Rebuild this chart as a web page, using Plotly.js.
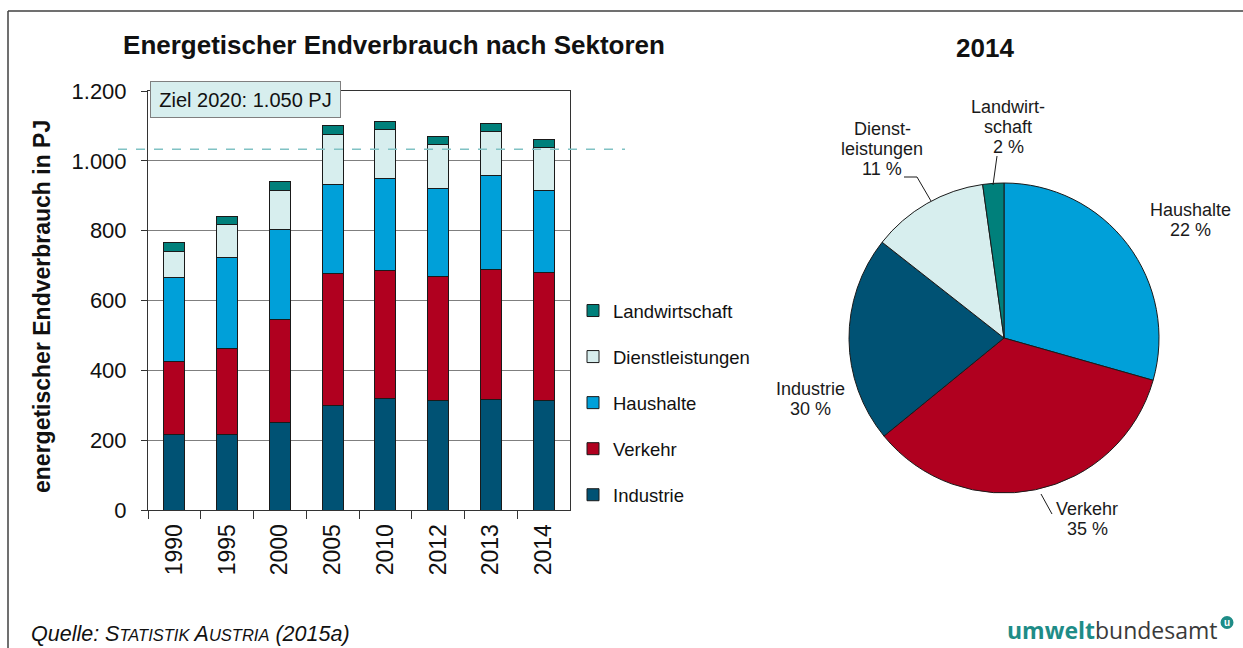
<!DOCTYPE html>
<html>
<head>
<meta charset="utf-8">
<script src="https://cdn.plot.ly/plotly-3.0.1.min.js"></script>
<style>html,body{margin:0;padding:0;background:#fff;}#chart{width:1243px;height:648px;}</style>
</head>
<body>
<div id="chart"></div>
<script>
// ---- data ----
const years = ['1990','1995','2000','2005','2010','2012','2013','2014'];
const industrie = [216,217,251,299,320,314,316,313];
const verkehr = [209,245,294,378,365,354,373,366];
const haushalte = [242,262,258,256,265,253,270,237];
const dienstleistungen = [73,95,113,143,139,125,125,121];
const landwirtschaft = [25,23,24,25,24,24,23,23];
const seriesNames = ['Industrie','Verkehr','Haushalte','Dienstleistungen','Landwirtschaft'];
const zielLine = 1033;
// pie 2014 (slice shares as drawn, clockwise from 12 o'clock)
const pieLabels = ['Haushalte','Verkehr','Industrie','Dienstleistungen','Landwirtschaft'];
const pieValues = [29.4,34.7,21.5,12.2,2.2];
const pieText = [['Haushalte','22 %'],['Verkehr','35 %'],['Industrie','30 %'],['Dienst-','leistungen','11 %'],['Landwirt-','schaft','2 %']];

const colors = {
  'Industrie':'#005274',
  'Verkehr':'#b0001f',
  'Haushalte':'#00a0d9',
  'Dienstleistungen':'#d7eeee',
  'Landwirtschaft':'#00807b'
};
const W = 1243, H = 648;
const X = p => p / W;
const Y = p => 1 - p / H;
const FONT = 'Liberation Sans, Arial, sans-serif';

const seriesData = [industrie, verkehr, haushalte, dienstleistungen, landwirtschaft];
const traces = seriesNames.map((n, i) => ({
  type: 'bar', name: n, x: years, y: seriesData[i],
  legendgroup: n, legendrank: seriesNames.length - i,
  marker: {color: colors[n], line: {color: '#1a1a1a', width: 1}},
  xaxis: 'x', yaxis: 'y', hoverinfo: 'x+y+name'
}));

traces.push({
  type: 'pie', labels: pieLabels, values: pieValues, sort: false,
  direction: 'clockwise', rotation: 0, textinfo: 'none', showlegend: false,
  marker: {colors: pieLabels.map(l => colors[l]), line: {color: '#1a1a1a', width: 1}},
  domain: {x: [X(849), X(1159)], y: [Y(493), Y(183)]}
});

// pie label centre positions (px), first line
const piePos = [[1190,210],[1087,509],[810,389],[882,129],[1008,107]];

const annotations = [
  {text: 'Ziel 2020: 1.050 PJ', xref: 'paper', yref: 'paper', x: X(245.5), y: Y(99.5),
   xanchor: 'center', yanchor: 'middle', showarrow: false, width: 187, height: 33,
   bgcolor: '#d7eeee', bordercolor: '#7f7f7f', borderwidth: 1,
   font: {family: FONT, size: 20, color: '#111'}},
  {text: '<b>energetischer Endverbrauch in PJ</b>', xref: 'paper', yref: 'paper', x: X(42), y: Y(307),
   textangle: -90, showarrow: false, xanchor: 'center', yanchor: 'middle',
   font: {family: FONT, size: 23, color: '#111'}},
  {text: '<b>2014</b>', xref: 'paper', yref: 'paper', x: X(985), y: Y(48), showarrow: false,
   xanchor: 'center', yanchor: 'middle', font: {family: FONT, size: 26, color: '#111'}},
  {text: '<i>Quelle: S<span style="font-size:16.5px">TATISTIK</span> A<span style="font-size:16.5px">USTRIA</span> (2015a)</i>',
   xref: 'paper', yref: 'paper', x: X(29), y: Y(634), xanchor: 'left', yanchor: 'middle', showarrow: false,
   font: {family: FONT, size: 21.5, color: '#111'}},
  {text: '<span style="color:#1e8c87"><b>umwelt</b></span><span style="color:#3a3a3a">bundesamt</span>',
   xref: 'paper', yref: 'paper', x: X(1220), y: Y(630), xanchor: 'right', yanchor: 'middle', showarrow: false,
   font: {family: 'Open Sans, sans-serif', size: 23}},
  {text: '<b>u</b>', xref: 'paper', yref: 'paper', x: X(1227), y: Y(622.5), xanchor: 'center', yanchor: 'middle',
   showarrow: false, font: {family: FONT, size: 10, color: '#fff'}}
];
pieText.forEach((lines, i) => lines.forEach((t, j) => annotations.push({
  text: t, xref: 'paper', yref: 'paper', x: X(piePos[i][0]), y: Y(piePos[i][1] + 20 * j),
  xanchor: 'center', yanchor: 'middle', align: 'center', showarrow: false,
  font: {family: FONT, size: 18, color: '#1a1a1a'}
})));

const linePath = pts => 'M' + pts.map(p => X(p[0]) + ',' + Y(p[1])).join('L');
const shapes = [
  {type: 'line', xref: 'paper', yref: 'y', x0: X(118), x1: X(625), y0: zielLine, y1: zielLine,
   line: {color: '#80c2c4', width: 1.5, dash: 'dash'}},
  {type: 'path', xref: 'paper', yref: 'paper', path: linePath([[997,156],[993,185]]), line: {color: '#1a1a1a', width: 1}},
  {type: 'path', xref: 'paper', yref: 'paper', path: linePath([[904,177],[917,177],[931,201]]), line: {color: '#1a1a1a', width: 1}},
  {type: 'path', xref: 'paper', yref: 'paper', path: linePath([[1052,514],[1041,494]]), line: {color: '#1a1a1a', width: 1}},
  {type: 'line', xref: 'paper', yref: 'paper', x0: X(8), x1: X(1243), y0: Y(11), y1: Y(11), line: {color: '#404040', width: 1.5}},
  {type: 'line', xref: 'paper', yref: 'paper', x0: X(8), x1: X(8), y0: Y(11), y1: Y(648), line: {color: '#404040', width: 1.5}},
  {type: 'circle', xref: 'paper', yref: 'paper', x0: X(1220.5), x1: X(1233.5), y0: Y(616), y1: Y(629),
   fillcolor: '#1e8c87', line: {width: 0}}
];

const layout = {
  width: W, height: H,
  margin: {l: 0, r: 0, t: 0, b: 0, pad: 0},
  paper_bgcolor: '#fff', plot_bgcolor: '#fff',
  separators: ',.',
  font: {family: FONT, color: '#111'},
  title: {text: '<b>Energetischer Endverbrauch nach Sektoren</b>', x: X(394), y: Y(45),
          xref: 'paper', yref: 'paper', xanchor: 'center', yanchor: 'middle',
          font: {family: FONT, size: 26, color: '#111'}},
  barmode: 'stack', bargap: 0.6,
  xaxis: {domain: [X(148), X(570)], type: 'category', showline: true, linecolor: '#333', linewidth: 1,
          mirror: true, ticks: 'outside', tickson: 'boundaries', ticklen: 8, tickcolor: '#333',
          tickangle: -90, tickfont: {family: FONT, size: 23, color: '#111'}, showgrid: false,
          ticklabelstandoff: 4, automargin: false},
  yaxis: {domain: [Y(510), Y(91)], range: [0, 1200], dtick: 200, tickformat: ',d',
          showline: true, linecolor: '#333', linewidth: 1, mirror: true,
          ticks: 'outside', ticklen: 6, tickcolor: '#333', ticklabelstandoff: 10,
          gridcolor: '#7f7f7f', gridwidth: 1, zeroline: false,
          tickfont: {family: FONT, size: 22, color: '#111'}, automargin: false},
  showlegend: true,
  legend: {x: X(573), y: Y(292), xanchor: 'left', yanchor: 'top', traceorder: 'grouped',
           tracegroupgap: 19, font: {family: FONT, size: 18.5, color: '#111'}, bgcolor: 'rgba(0,0,0,0)'},
  annotations: annotations,
  shapes: shapes
};

Plotly.newPlot('chart', traces, layout, {displayModeBar: false, staticPlot: true});
</script>
</body>
</html>
